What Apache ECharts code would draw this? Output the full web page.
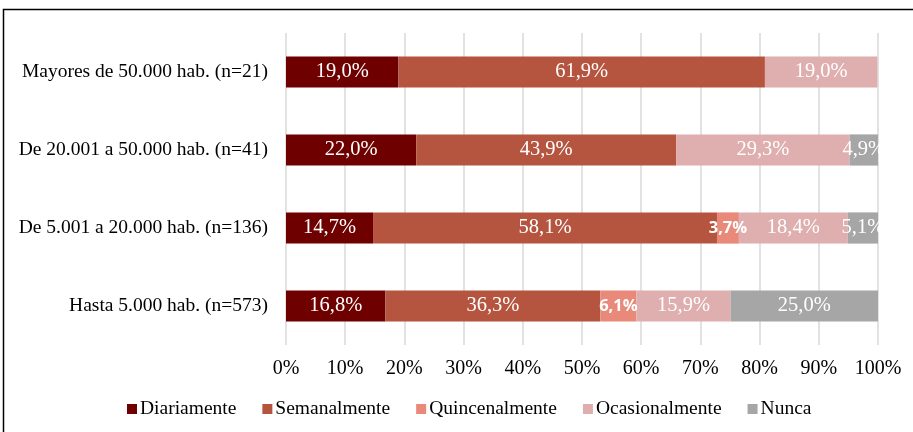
<!DOCTYPE html>
<html>
<head>
<meta charset="utf-8">
<script src="https://cdn.jsdelivr.net/npm/echarts@6/dist/echarts.min.js"></script>
<style>
  html, body { margin: 0; padding: 0; background: #fff; }
  #chart { width: 913px; height: 432px; }
</style>
</head>
<body>
<div id="chart"></div>
<script>
// Municipality size groups (bottom to top on the axis)
const categories = [
  'Hasta 5.000 hab. (n=573)',
  'De 5.001 a 20.000 hab. (n=136)',
  'De 20.001 a 50.000 hab. (n=41)',
  'Mayores de 50.000 hab. (n=21)'
];

// Share of each frequency, in percent, per group (same order as categories)
const diariamente    = [16.8, 14.7, 22.0, 19.0];
const semanalmente   = [36.3, 58.1, 43.9, 61.9];
const quincenalmente = [6.1, 3.7, 0, 0];
const ocasionalmente = [15.9, 18.4, 29.3, 19.0];
const nunca          = [25.0, 5.1, 4.9, 0];

const xTicks = [0, 10, 20, 30, 40, 50, 60, 70, 80, 90, 100];

const serifFont = '"Liberation Serif", "Times New Roman", serif';
const sansFont = '"Open Sans", "DejaVu Sans", sans-serif';

const fmt = v => v.toFixed(1).replace('.', ',') + '%';

function makeSeries(name, data, color, small) {
  return {
    name: name,
    type: 'bar',
    stack: 'total',
    barWidth: '40%',
    data: data,
    itemStyle: { color: color },
    label: {
      show: true,
      position: 'inside',
      color: '#fff',
      fontFamily: small ? sansFont : serifFont,
      fontWeight: small ? 'bold' : 'normal',
      fontSize: small ? 16.5 : 20.5,
      formatter: p => (p.value > 0 ? fmt(p.value) : '')
    },
    emphasis: { disabled: true }
  };
}

const chart = echarts.init(document.getElementById('chart'));
chart.setOption({
  animation: false,
  graphic: [{
    type: 'rect',
    shape: { x: 3.5, y: 9.5, width: 920, height: 440 },
    style: { fill: 'none', stroke: '#000', lineWidth: 1.5 },
    silent: true
  }],
  grid: { left: 286, right: 35, top: 33, bottom: 87 },
  legend: {
    bottom: 8,
    left: 122,
    itemWidth: 10,
    itemHeight: 10,
    itemGap: 26,
    icon: 'rect',
    textStyle: { fontFamily: serifFont, fontSize: 19.5, color: '#000', padding: [0, 0, 0, -2] },
    data: ['Diariamente', 'Semanalmente', 'Quincenalmente', 'Ocasionalmente', 'Nunca']
  },
  xAxis: {
    type: 'value',
    min: 0,
    max: 100,
    interval: 10,
    axisLine: { show: false },
    axisTick: { show: false },
    splitLine: { show: true, lineStyle: { color: '#D9D9D9', width: 1.5 } },
    axisLabel: {
      fontFamily: serifFont,
      fontSize: 20,
      color: '#000',
      margin: 14,
      formatter: v => (xTicks.includes(v) ? v + '%' : '')
    }
  },
  yAxis: {
    type: 'category',
    data: categories,
    axisLine: { show: false },
    axisTick: { show: false },
    axisLabel: {
      fontFamily: serifFont,
      fontSize: 19.5,
      color: '#000',
      margin: 18
    }
  },
  series: [
    makeSeries('Diariamente', diariamente, '#6E0000', false),
    makeSeries('Semanalmente', semanalmente, '#B5553F', false),
    makeSeries('Quincenalmente', quincenalmente, '#E8897A', true),
    makeSeries('Ocasionalmente', ocasionalmente, '#DFAEAE', false),
    makeSeries('Nunca', nunca, '#A6A6A6', false)
  ]
});
</script>
</body>
</html>
